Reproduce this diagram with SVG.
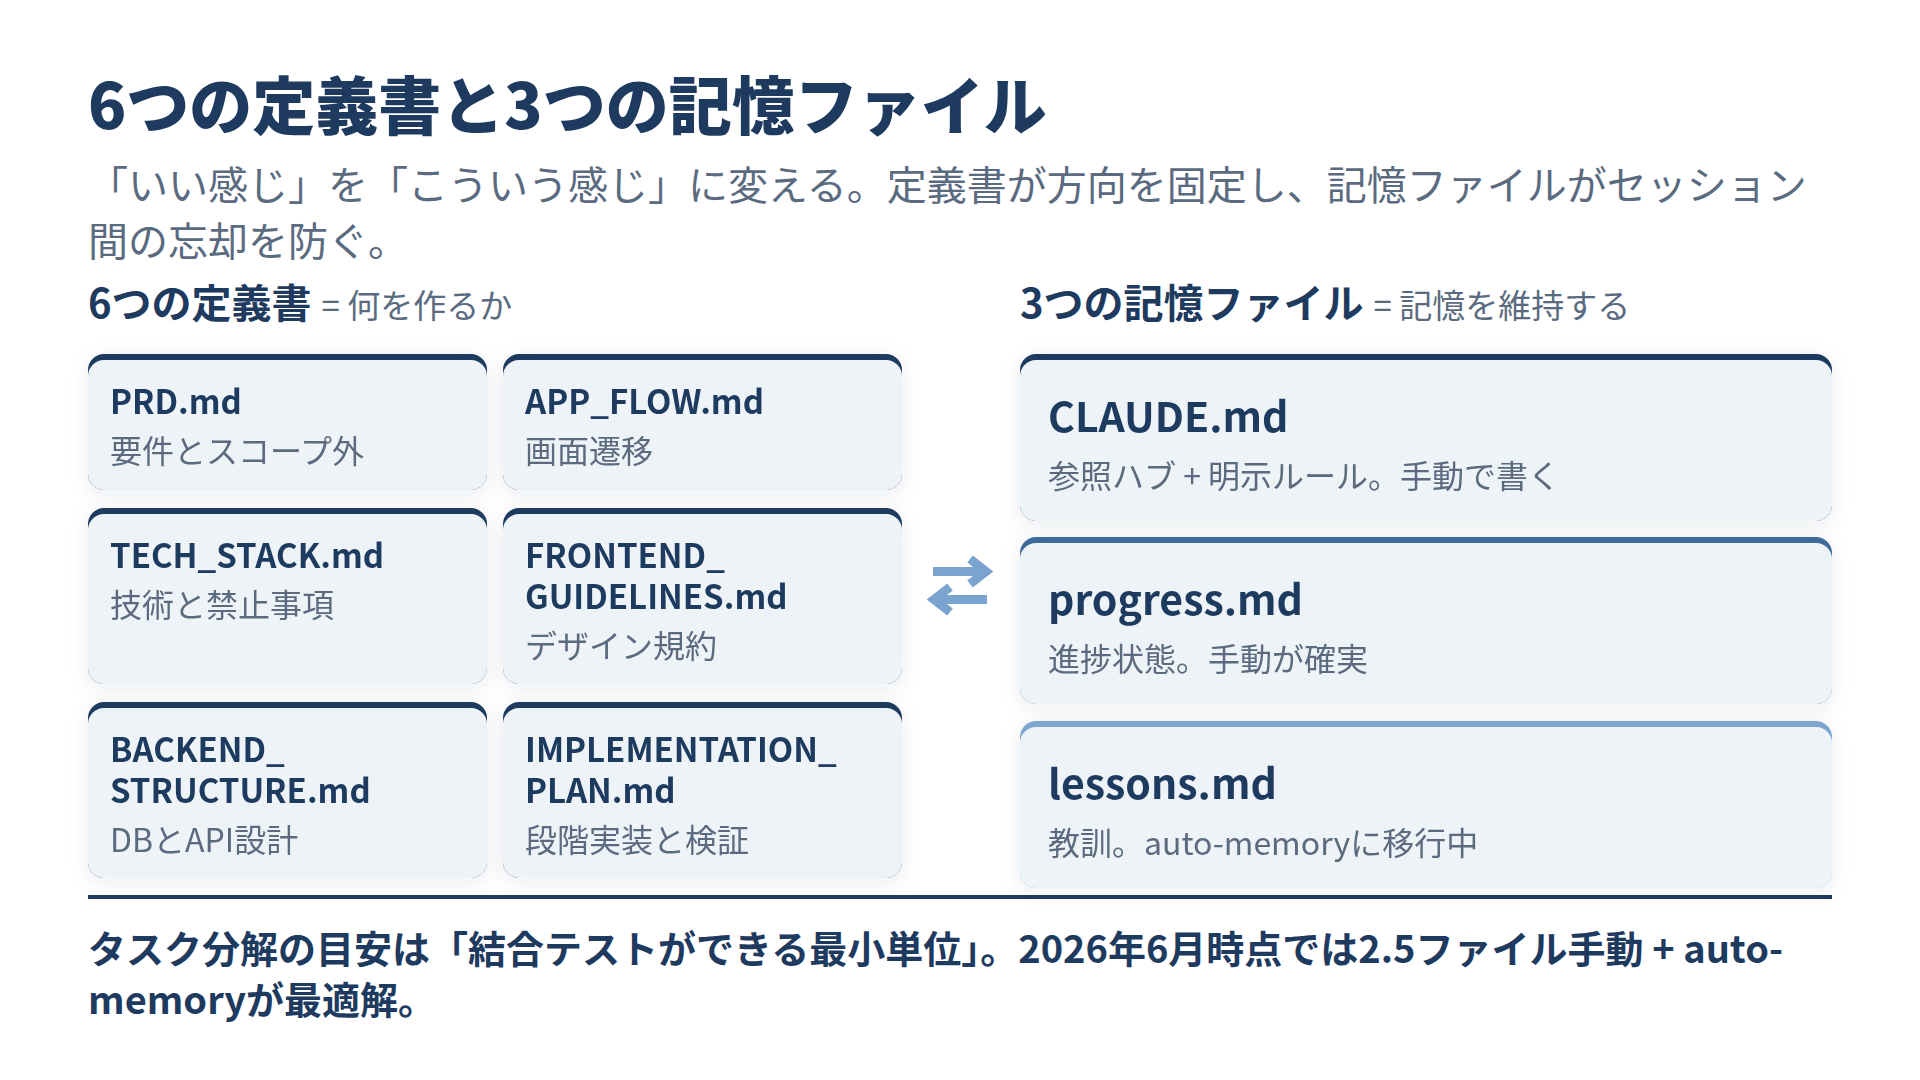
<svg xmlns="http://www.w3.org/2000/svg" width="1920" height="1080" viewBox="0 0 1920 1080">
  <defs>
    <filter id="shadow" x="-10%" y="-20%" width="120%" height="140%">
      <feDropShadow dx="0" dy="4" stdDeviation="10" flood-color="#1e3a5f" flood-opacity="0.08"/>
    </filter>
    <style>
      text { font-family: "Noto Sans CJK JP", "Noto Sans", sans-serif; }
      .title { font-size: 63px; font-weight: 900; fill: #1e3a5f; }
      .lead { font-size: 40px; fill: #5b6b7f; }
      .h2 { font-size: 40px; font-weight: 700; fill: #1e3a5f; }
      .h2sub { font-size: 33px; font-weight: 400; fill: #5b6b7f; }
      .ct { font-size: 33px; font-weight: 700; fill: #1e3a5f; }
      .cs { font-size: 32px; fill: #5b6b7f; }
      .rt { font-size: 41px; font-weight: 700; fill: #1e3a5f; }
      .bg { fill: #eef3f8; }
      .dark { fill: #1e3a5f; }
      .mid { fill: #3d6b99; }
      .light { fill: #7ea6d0; }
      .foot { font-size: 38px; font-weight: 700; fill: #1e3a5f; }
      .arrow { fill: none; stroke: #7ba3cf; stroke-width: 9; stroke-linejoin: miter; }
    </style>
  </defs>

  <rect x="0" y="0" width="1920" height="1080" fill="#ffffff"/>

  <text class="title" x="88" y="129">6つの定義書と3つの記憶ファイル</text>
  <text class="lead" x="88" y="200">「いい感じ」を「こういう感じ」に変える。定義書が方向を固定し、記憶ファイルがセッション</text>
  <text class="lead" x="88" y="256">間の忘却を防ぐ。</text>

  <text class="h2" x="88" y="318">6つの定義書<tspan class="h2sub" dx="10">= 何を作るか</tspan></text>
  <text class="h2" x="1020" y="318">3つの記憶ファイル<tspan class="h2sub" dx="10">= 記憶を維持する</tspan></text>

  <!-- left cards -->
  <g id="prd" filter="url(#shadow)">
    <rect class="dark" x="88" y="354" width="399" height="136" rx="16"/>
    <rect class="bg" x="88" y="360" width="399" height="130" rx="16"/>
    <text class="ct" x="110" y="414">PRD.md</text>
    <text class="cs" x="110" y="463">要件とスコープ外</text>
  </g>
  <g id="app-flow" filter="url(#shadow)">
    <rect class="dark" x="503" y="354" width="399" height="136" rx="16"/>
    <rect class="bg" x="503" y="360" width="399" height="130" rx="16"/>
    <text class="ct" x="525" y="414">APP_FLOW.md</text>
    <text class="cs" x="525" y="463">画面遷移</text>
  </g>
  <g id="tech-stack" filter="url(#shadow)">
    <rect class="dark" x="88" y="508" width="399" height="176" rx="16"/>
    <rect class="bg" x="88" y="514" width="399" height="170" rx="16"/>
    <text class="ct" x="110" y="568">TECH_STACK.md</text>
    <text class="cs" x="110" y="617">技術と禁止事項</text>
  </g>
  <g id="frontend-guidelines" filter="url(#shadow)">
    <rect class="dark" x="503" y="508" width="399" height="176" rx="16"/>
    <rect class="bg" x="503" y="514" width="399" height="170" rx="16"/>
    <text class="ct" x="525" y="568">FRONTEND_</text>
    <text class="ct" x="525" y="609">GUIDELINES.md</text>
    <text class="cs" x="525" y="658">デザイン規約</text>
  </g>
  <g id="backend-structure" filter="url(#shadow)">
    <rect class="dark" x="88" y="702" width="399" height="176" rx="16"/>
    <rect class="bg" x="88" y="708" width="399" height="170" rx="16"/>
    <text class="ct" x="110" y="762">BACKEND_</text>
    <text class="ct" x="110" y="803">STRUCTURE.md</text>
    <text class="cs" x="110" y="852">DBとAPI設計</text>
  </g>
  <g id="implementation-plan" filter="url(#shadow)">
    <rect class="dark" x="503" y="702" width="399" height="176" rx="16"/>
    <rect class="bg" x="503" y="708" width="399" height="170" rx="16"/>
    <text class="ct" x="525" y="762">IMPLEMENTATION_</text>
    <text class="ct" x="525" y="803">PLAN.md</text>
    <text class="cs" x="525" y="852">段階実装と検証</text>
  </g>

  <!-- right cards -->
  <g id="claude" filter="url(#shadow)">
    <rect class="dark" x="1020" y="354" width="812" height="167" rx="16"/>
    <rect class="bg" x="1020" y="360" width="812" height="161" rx="16"/>
    <text class="rt" x="1048" y="432">CLAUDE.md</text>
    <text class="cs" x="1048" y="488">参照ハブ + 明示ルール。手動で書く</text>
  </g>
  <g id="progress" filter="url(#shadow)">
    <rect class="mid" x="1020" y="537" width="812" height="167" rx="16"/>
    <rect class="bg" x="1020" y="543" width="812" height="161" rx="16"/>
    <text class="rt" x="1048" y="615">progress.md</text>
    <text class="cs" x="1048" y="671">進捗状態。手動が確実</text>
  </g>
  <g id="lessons" filter="url(#shadow)">
    <rect class="light" x="1020" y="721" width="812" height="167" rx="16"/>
    <rect class="bg" x="1020" y="727" width="812" height="161" rx="16"/>
    <text class="rt" x="1048" y="799">lessons.md</text>
    <text class="cs" x="1048" y="855">教訓。auto-memoryに移行中</text>
  </g>

  <!-- connectors -->
  <g id="connectors">
    <path class="arrow" d="M933 571.5 H984 M970 559 L986 571.5 L970 584"/>
    <path class="arrow" d="M987 599.5 H936 M950 587 L934 599.5 L950 612"/>
  </g>

  <rect x="88" y="895" width="1744" height="4" fill="#1e3a5f"/>

  <text class="foot" x="88" y="963">タスク分解の目安は「結合テストができる最小単位」。2026年6月時点では2.5ファイル手動 + auto-</text>
  <text class="foot" x="88" y="1014">memoryが最適解。</text>
</svg>
